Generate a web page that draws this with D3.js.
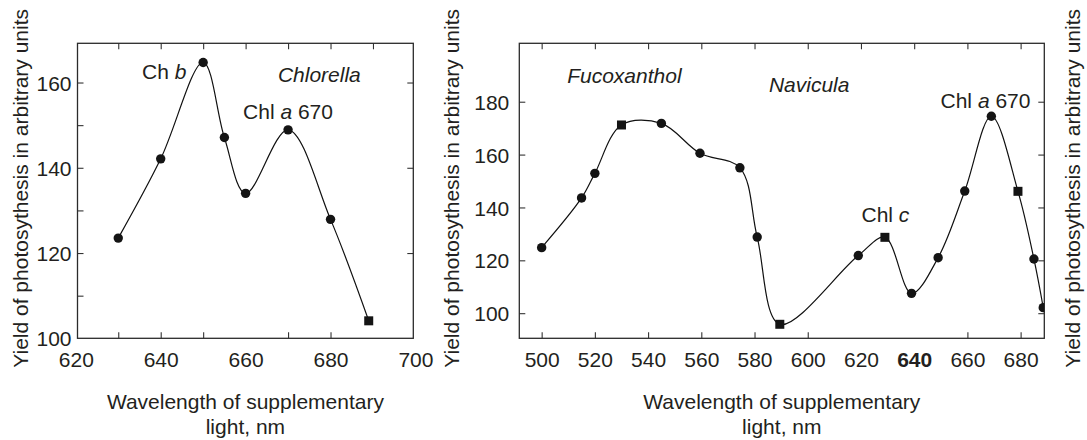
<!DOCTYPE html>
<html>
<head>
<meta charset="utf-8">
<script src="https://cdn.jsdelivr.net/npm/d3@7"></script>
<style>
  body{margin:0;background:#fff;}
  svg text{font-family:"Liberation Sans",Arial,Helvetica,sans-serif;fill:#231f20;}
</style>
</head>
<body>
<script>
const width = 1087;
const height = 440;

// Chlorella (left panel)
const chlorellaNm = [630, 640, 650, 655, 660, 670, 680, 689];
const chlorellaYield = [123.5, 142.1, 164.7, 147.1, 134.0, 148.9, 127.9, 104.1];
const chlorellaMarker = ['c','c','c','c','c','c','c','s'];
const chlorellaXLabels = [620, 640, 660, 680, 700];
const chlorellaXTicksBottom = [630, 640, 650, 670, 680];
const chlorellaXTicksTop = [630, 640, 650, 660, 670, 680, 690];
const chlorellaYLabels = [100, 120, 140, 160];
const chlorellaYTicksLeft = [110, 120, 130, 140, 150, 160];
const chlorellaYTicksRight = [120, 140, 160];
const chlorellaNotes = [
  {nm: 635.6, val: 160.8, parts: [['Ch ', false], ['b', true]]},
  {nm: 667.6, val: 160.1, parts: [['Chlorella', true]]},
  {nm: 659.4, val: 151.4, parts: [['Chl ', false], ['a', true], [' 670', false]]}
];

// Navicula (right panel)
const naviculaNm = [500, 515, 520, 530, 545, 559.5, 574.5, 581, 589.5, 619, 629, 639, 649, 659, 669, 679, 685, 688.5];
const naviculaYield = [124.8, 143.6, 152.9, 171.2, 171.8, 160.5, 155.0, 128.8, 95.8, 121.8, 128.7, 107.5, 121.0, 146.2, 174.5, 146.1, 120.5, 102.1];
const naviculaMarker = ['c','c','c','s','c','c','c','c','s','c','s','c','c','c','c','s','c','c'];
const naviculaXLabels = [500, 520, 540, 560, 580, 600, 620, 640, 660, 680];
const naviculaXTicksBottom = [500, 520, 540, 560, 580, 600, 660, 680];
const naviculaXTicksTop = [500, 520, 540, 560, 580, 600, 620, 640, 660, 680];
const naviculaYLabels = [100, 120, 140, 160, 180];
const naviculaYTicks = [100, 120, 140, 160, 180];
const naviculaNotes = [
  {nm: 509.6, val: 187.0, parts: [['Fucoxanthol', true]]},
  {nm: 585.4, val: 183.8, parts: [['Navicula', true]]},
  {nm: 620.2, val: 134.6, parts: [['Chl ', false], ['c', true]]},
  {nm: 649.9, val: 177.5, parts: [['Chl ', false], ['a', true], [' 670', false]]}
];

const yTitle = 'Yield of photosythesis in arbitrary units';
const xTitle = ['Wavelength of supplementary', 'light, nm'];

const svg = d3.select('body').append('svg')
              .attr('width', width)
              .attr('height', height);

function panel(cfg){
  const x = cfg.x, y = cfg.y;
  const [x0, x1] = x.range();
  const [y0, y1] = y.range();
  const g = svg.append('g');

  g.append('clipPath').attr('id', cfg.id + '-clip')
   .append('rect').attr('x', x0).attr('y', y1).attr('width', x1 - x0).attr('height', y0 - y1);

  // tick marks, all pointing inward
  g.append('g').attr('transform', `translate(0,${y0})`)
   .call(d3.axisBottom(x).tickValues(cfg.xTicksBottom).tickSize(-6).tickSizeOuter(0).tickFormat(''))
   .call(a => a.select('.domain').remove());
  g.append('g').attr('transform', `translate(0,${y1})`)
   .call(d3.axisTop(x).tickValues(cfg.xTicksTop).tickSize(-6).tickSizeOuter(0).tickFormat(''))
   .call(a => a.select('.domain').remove());
  g.append('g').attr('transform', `translate(${x0},0)`)
   .call(d3.axisLeft(y).tickValues(cfg.yTicksLeft).tickSize(-6).tickSizeOuter(0).tickFormat(''))
   .call(a => a.select('.domain').remove());
  g.append('g').attr('transform', `translate(${x1},0)`)
   .call(d3.axisRight(y).tickValues(cfg.yTicksRight).tickSize(-6).tickSizeOuter(0).tickFormat(''))
   .call(a => a.select('.domain').remove());
  g.selectAll('.tick line').attr('stroke', '#333').attr('stroke-width', 1.1);

  // labels
  const xl = g.append('g').attr('transform', `translate(0,${y0})`)
   .call(d3.axisBottom(x).tickValues(cfg.xLabels).tickSize(0).tickPadding(14).tickFormat(d3.format('d')));
  xl.select('.domain').remove();
  xl.selectAll('text').attr('font-size', 21)
    .attr('font-weight', d => cfg.boldLabel === d ? 'bold' : null);

  const yl = g.append('g').attr('transform', `translate(${x0},0)`)
   .call(d3.axisLeft(y).tickValues(cfg.yLabels).tickSize(0).tickPadding(cfg.yPad).tickFormat(d3.format('d')));
  yl.select('.domain').remove();
  yl.selectAll('text').attr('font-size', 21).attr('dy', '0.36em');
  g.selectAll('.tick text').attr('fill', '#231f20').attr('font-family', null);

  // frame
  g.append('rect').attr('x', x0).attr('y', y1).attr('width', x1 - x0).attr('height', y0 - y1)
   .attr('fill', 'none').attr('stroke', '#2b2b2b').attr('stroke-width', 1.3);

  const pts = cfg.nm.map((d, i) => ({nm: d, val: cfg.val[i], m: cfg.marker[i]}));
  const plot = g.append('g').attr('clip-path', `url(#${cfg.id}-clip)`);

  const line = d3.line().x(d => x(d.nm)).y(d => y(d.val)).curve(d3.curveCatmullRom.alpha(0.5));
  plot.append('path').datum(pts).attr('d', line)
      .attr('fill', 'none').attr('stroke', '#111').attr('stroke-width', 1.2);

  plot.selectAll('circle').data(pts.filter(d => d.m === 'c')).enter()
      .append('circle').attr('cx', d => x(d.nm)).attr('cy', d => y(d.val))
      .attr('r', 4.7).attr('fill', '#141414');
  plot.selectAll('rect.sq').data(pts.filter(d => d.m === 's')).enter()
      .append('rect').attr('class', 'sq')
      .attr('x', d => x(d.nm) - 4.5).attr('y', d => y(d.val) - 4.5)
      .attr('width', 9).attr('height', 9).attr('fill', '#141414');

  cfg.notes.forEach(n => {
    const t = g.append('text').attr('x', x(n.nm)).attr('y', y(n.val)).attr('font-size', 21);
    n.parts.forEach(p => t.append('tspan').text(p[0]).attr('font-style', p[1] ? 'italic' : null));
  });

  // x title
  const cx = (x0 + x1) / 2;
  xTitle.forEach((s, i) => {
    g.append('text').attr('x', cx).attr('y', 409 + i * 25)
     .attr('text-anchor', 'middle').attr('font-size', 21).text(s);
  });
}

panel({
  id: 'chl',
  x: d3.scaleLinear().domain([620.4, 699.5]).range([77.5, 413.3]),
  y: d3.scaleLinear().domain([100, 169.2]).range([338.3, 43.3]),
  nm: chlorellaNm, val: chlorellaYield, marker: chlorellaMarker,
  xLabels: chlorellaXLabels, xTicksBottom: chlorellaXTicksBottom, xTicksTop: chlorellaXTicksTop,
  yLabels: chlorellaYLabels, yTicksLeft: chlorellaYTicksLeft, yTicksRight: chlorellaYTicksRight,
  yPad: 6, notes: chlorellaNotes
});

panel({
  id: 'nav',
  x: d3.scaleLinear().domain([491.6, 688.9]).range([519.3, 1044.3]),
  y: d3.scaleLinear().domain([90.5, 202.1]).range([338.3, 43.3]),
  nm: naviculaNm, val: naviculaYield, marker: naviculaMarker,
  xLabels: naviculaXLabels, xTicksBottom: naviculaXTicksBottom, xTicksTop: naviculaXTicksTop,
  yLabels: naviculaYLabels, yTicksLeft: naviculaYTicks, yTicksRight: naviculaYTicks,
  yPad: 10, notes: naviculaNotes, boldLabel: 640
});

// rotated y titles
[27.5, 459, 1080].forEach(bx => {
  svg.append('text')
     .attr('transform', `translate(${bx},9) rotate(-90)`)
     .attr('text-anchor', 'end')
     .attr('font-size', 21)
     .text(yTitle);
});
</script>
</body>
</html>
